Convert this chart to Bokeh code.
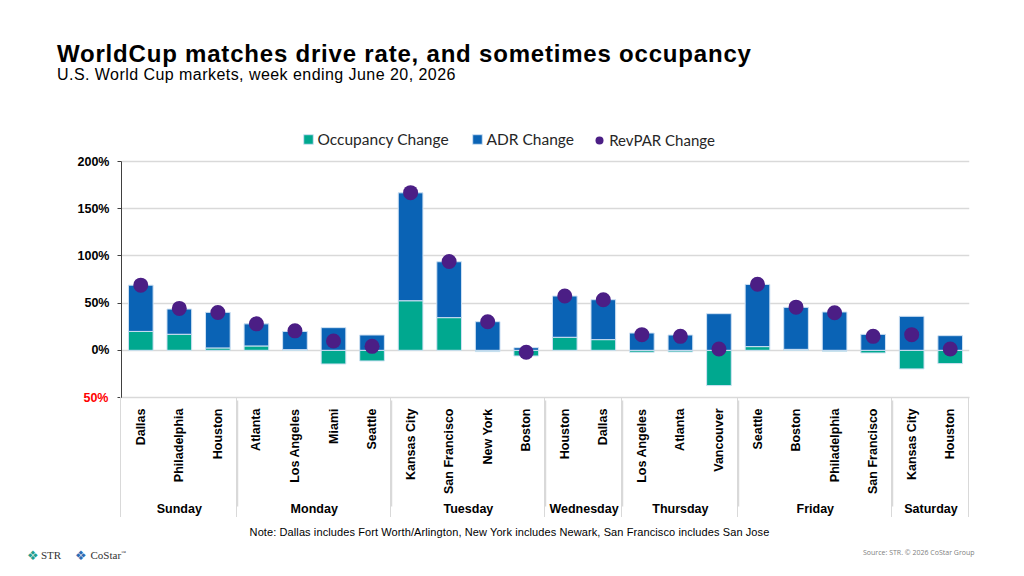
import math

from bokeh.plotting import figure
from bokeh.layouts import column
from bokeh.models import (FactorRange, ColumnDataSource, FixedTicker, Div,
                          Legend, LegendItem, LinearAxis, Range1d)
from bokeh.embed import file_html
from bokeh.resources import INLINE

# ---- data -------------------------------------------------------------
days = ["Sunday"] * 3 + ["Monday"] * 4 + ["Tuesday"] * 4 + ["Wednesday"] * 2 + \
       ["Thursday"] * 3 + ["Friday"] * 4 + ["Saturday"] * 2
cities = ["Dallas", "Philadelphia", "Houston",
          "Atlanta", "Los Angeles", "Miami", "Seattle",
          "Kansas City", "San Francisco", "New York", "Boston",
          "Houston", "Dallas",
          "Los Angeles", "Atlanta", "Vancouver",
          "Seattle", "Boston", "Philadelphia", "San Francisco",
          "Kansas City", "Houston"]
# percentage-point contributions drawn as stacked segments
occupancy_change = [20.0, 17.0, 2.5, 4.6, 0.7, -14.5, -11.3,
                    52.5, 34.6, -1.4, -6.0,
                    13.8, 11.3,
                    -2.0, -1.7, -37.4,
                    3.9, 1.0, -1.0, -2.8,
                    -19.7, -14.1]
adr_change = [49.0, 26.7, 37.7, 23.4, 19.3, 24.0, 16.2,
              114.3, 59.2, 30.3, 2.8,
              43.7, 42.3,
              18.3, 16.2, 38.8,
              65.9, 44.5, 40.6, 16.9,
              36.0, 15.5]
revpar_change = [69.0, 44.4, 40.0, 28.0, 20.6, 9.9, 4.2,
                 167.0, 94.0, 30.3, -2.1,
                 57.5, 53.6,
                 16.6, 14.8, 1.4,
                 70.0, 45.7, 39.8, 14.8,
                 16.6, 1.4]
y_ticks = [-50, 0, 50, 100, 150, 200]

# ---- styling ----------------------------------------------------------
TEAL = "#00A88F"
BLUE = "#0A63B5"
PURPLE = "#4B1E85"
EDGE = "#cfe1f3"
GRID = "#d9d9d9"
SANS = "Liberation Sans"
W = 1024
HEAD_H, MAIN_H, FOOT_H = 125, 399, 52
FRAME_H, FRAME_W = 272, 848
BORDER_L = 121
Y_TOP = 200 + (161 - HEAD_H) * 250 / 236   # headroom above 200% for the legend

# ---- main chart -------------------------------------------------------
factors = list(zip(days, cities))
adr_bottom = [max(o, 0) for o in occupancy_change]
adr_top = [b + a for b, a in zip(adr_bottom, adr_change)]

src = ColumnDataSource(dict(x=factors, occ=occupancy_change,
                            adr_bottom=adr_bottom, adr_top=adr_top,
                            revpar=revpar_change))

p = figure(x_range=FactorRange(factors=factors, factor_padding=0,
                               group_padding=0, range_padding=0),
           y_range=Range1d(-50, Y_TOP), width=W, height=MAIN_H,
           frame_width=FRAME_W, frame_height=FRAME_H,
           output_backend="svg", toolbar_location=None, title_location=None,
           min_border_left=BORDER_L, min_border_right=W - BORDER_L - FRAME_W,
           min_border_top=0, min_border_bottom=MAIN_H - FRAME_H,
           outline_line_color=None)

r_occ = p.vbar(x="x", bottom=0, top="occ", width=0.64, source=src,
               fill_color=TEAL, line_color=EDGE, line_width=1)
r_adr = p.vbar(x="x", bottom="adr_bottom", top="adr_top", width=0.64,
               source=src, fill_color=BLUE, line_color=EDGE, line_width=1)
r_rev = p.scatter(x="x", y="revpar", source=src, marker="circle", size=15,
                  fill_color=PURPLE, line_color=None)

ya = p.yaxis[0]
ya.bounds = (-50, 200)
ya.ticker = FixedTicker(ticks=y_ticks)
ya.major_label_overrides = {t: ("" if t < 0 else f"{t}%") for t in y_ticks}
ya.major_label_text_font = SANS
ya.major_label_text_font_style = "bold"
ya.major_label_text_font_size = "12.5px"
ya.major_label_text_color = "#000000"
ya.major_label_standoff = 8
ya.axis_line_color = "#404040"
ya.major_tick_line_color = "#404040"
ya.major_tick_out = 4
ya.major_tick_in = 0
ya.minor_tick_line_color = None

# negative tick label in red, written without its sign
neg_axis = LinearAxis(ticker=FixedTicker(ticks=[-50]),
                      major_label_overrides={-50: "50%"},
                      major_label_text_color="#FF0000",
                      major_label_text_font=SANS,
                      major_label_text_font_style="bold",
                      major_label_text_font_size="12.5px",
                      major_label_standoff=-34, major_tick_out=0,
                      major_tick_in=0, axis_line_color=None,
                      major_tick_line_color=None, minor_tick_line_color=None)
p.add_layout(neg_axis, "left")

p.ygrid.ticker = FixedTicker(ticks=[0, 50, 100, 150, 200])
p.ygrid.grid_line_color = GRID
p.ygrid.grid_line_width = 1.5
p.xgrid.visible = False

xa = p.xaxis[0]
xa.major_label_orientation = math.pi / 2
xa.group_label_orientation = "horizontal"
xa.major_label_text_font = SANS
xa.major_label_text_font_style = "bold"
xa.major_label_text_font_size = "12.5px"
xa.major_label_text_color = "#000000"
xa.group_text_font = SANS
xa.group_text_font_style = "bold"
xa.group_text_font_size = "12.5px"
xa.group_text_color = "#000000"
xa.major_label_standoff = 5
xa.major_tick_line_color = None
xa.axis_line_color = GRID
xa.axis_line_width = 1.5
xa.separator_line_color = GRID
xa.separator_line_width = 1.5

# ---- legend (inside the frame's headroom) ----------------------------
fb = HEAD_H + FRAME_H   # page y of the frame bottom
leg1 = Legend(items=[LegendItem(label="Occupancy Change", renderers=[r_occ]),
                     LegendItem(label="ADR Change", renderers=[r_adr])],
              orientation="horizontal", location=(301.5 - BORDER_L, fb - 147.7),
              glyph_width=12, glyph_height=12, label_height=12,
              label_width=153, label_standoff=4, spacing=0,
              padding=0, margin=0, border_line_color=None,
              background_fill_alpha=0, label_text_font="Lato",
              label_text_font_size="15.5px", label_text_color="#262626")
leg2 = Legend(items=[LegendItem(label="RevPAR Change", renderers=[r_rev])],
              orientation="horizontal", location=(589.2 - BORDER_L, fb - 150.2),
              glyph_width=20, glyph_height=20, label_height=20,
              label_standoff=0, padding=0, margin=0, border_line_color=None,
              background_fill_alpha=0, label_text_font="Lato",
              label_text_font_size="15px", label_text_color="#262626")
p.add_layout(leg1)
p.add_layout(leg2)


# ---- header and footer text ------------------------------------------
def span(text, left, top, font, color="#000000", extra=""):
    return (f'<div style="position:absolute;left:{left}px;top:{top}px;'
            f'font:{font};color:{color};white-space:nowrap;{extra}">{text}</div>')


head_html = (
    f'<div style="position:relative;width:{W}px;height:{HEAD_H}px;margin:0;">'
    + span("WorldCup matches drive rate, and sometimes occupancy", 57, 41.7,
           f"bold 24px/1 '{SANS}'", extra="letter-spacing:0.8px;")
    + span("U.S. World Cup markets, week ending June 20, 2026", 57, 66.5,
           f"16px/1 '{SANS}'", extra="letter-spacing:0.45px;")
    + "</div>")

top0 = HEAD_H + MAIN_H

# day-group rules through the category label band (including both ends)
bounds = [0]
for d in dict.fromkeys(days):
    bounds.append(bounds[-1] + days.count(d))
step = FRAME_W / len(factors)
rules = "".join(
    f'<div style="position:absolute;left:{BORDER_L + b * step - 0.75:.2f}px;'
    f'top:{fb - top0}px;width:0;height:120px;'
    f'border-left:1.5px solid {GRID};"></div>'
    for b in bounds)

foot_html = (
    f'<div style="position:relative;width:{W}px;height:{FOOT_H}px;margin:0;">'
    + rules
    + span("Note: Dallas includes Fort Worth/Arlington, New York includes Newark, "
           "San Francisco includes San Jose", 0, 536 - top0 - 9.3,
           f"11px/1 '{SANS}'",
           extra="width:1019px;text-align:center;letter-spacing:0.1px;")
    + span("Source: STR. \u00a9 2026 CoStar Group", 863, 555 - top0 - 6.2,
           "7px/1 'Open Sans'", color="#808080")
    + span("\u2756", 27, 555 - top0 - 6.3, "13px/1 'DejaVu Sans'", color="#1f9e8f")
    + span("STR", 41, 559 - top0 - 9.2, "11px/1 'Liberation Serif'", color="#333333")
    + span("\u2756", 75, 555 - top0 - 6.3, "13px/1 'DejaVu Sans'", color="#2d6bb3")
    + span("CoStar<sup style='font-size:5px'>\u2122</sup>", 90.5, 559 - top0 - 9.2,
           "11px/1 'Liberation Serif'", color="#333333")
    + "</div>")

head = Div(text=head_html, width=W, height=HEAD_H, margin=0)
foot = Div(text=foot_html, width=W, height=FOOT_H, margin=0)

page = column(head, p, foot, spacing=0)
open("out.html", "w").write(file_html(page, INLINE))
